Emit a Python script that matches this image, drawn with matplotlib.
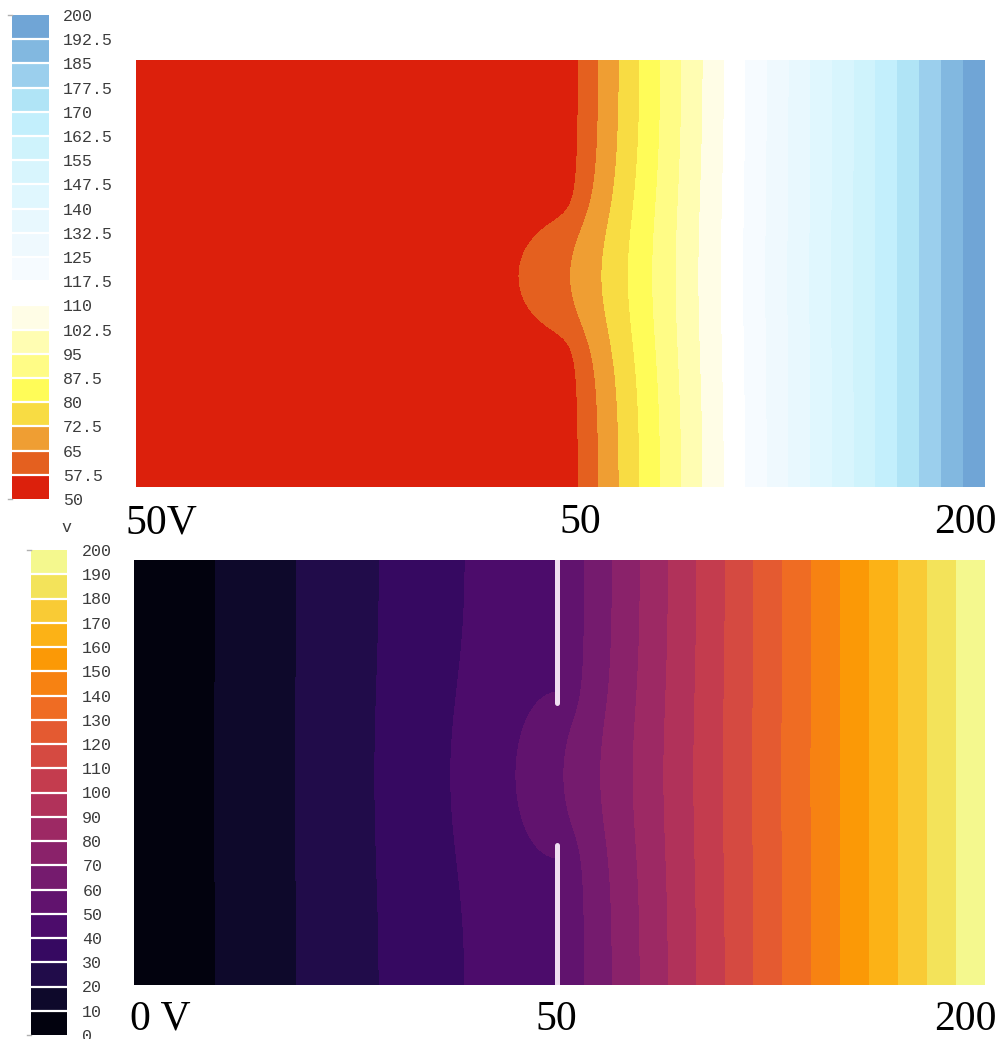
import numpy as np
import matplotlib
matplotlib.use("Agg")
import matplotlib.pyplot as plt
from matplotlib.ticker import FormatStrFormatter

# ---- cell geometry (drawing units) ----
cell_width = 850.0
cell_height = 425.0
plate_x = 422.5          # position of the perforated middle plate
aperture_low = 140.0     # opening in the plate
aperture_high = 282.0
grid_step = 2.5

# ---- electrode potentials (V) ----
upper_left_volts = 50.0
lower_left_volts = 0.0
plate_volts = 50.0
right_volts = 200.0

# ---- contour levels ----
upper_levels = [50, 57.5, 65, 72.5, 80, 87.5, 95, 102.5, 110, 117.5, 125,
                132.5, 140, 147.5, 155, 162.5, 170, 177.5, 185, 192.5, 200]
lower_levels = [0, 10, 20, 30, 40, 50, 60, 70, 80, 90, 100,
                110, 120, 130, 140, 150, 160, 170, 180, 190, 200]

upper_colors = ["#dc200c", "#e4601f", "#ef9e33", "#f8dc43", "#fffc58",
                "#fffc86", "#fffdb2", "#fffde6", "#ffffff", "#f6fbff",
                "#eff9fe", "#e8f8fe", "#e0f7fe", "#d8f5fd", "#cff3fc",
                "#c3effc", "#b0e4f6", "#9bcfed", "#82b8e0", "#70a5d6"]

# ---- annotations under each map ----
upper_marks = ["50V", "50", "200"]
lower_marks = ["0 V", "50", "200"]


def solve_potential(v_left, v_right, v_plate, iterations=2200):
    """Laplace equation, Dirichlet electrodes, insulating top/bottom walls."""
    nx = int(round(cell_width / grid_step)) + 1
    ny = int(round(cell_height / grid_step)) + 1
    x = np.linspace(0.0, cell_width, nx)
    y = np.linspace(0.0, cell_height, ny)
    ip = int(np.argmin(np.abs(x - plate_x)))
    xp = x[ip]
    # start from the field of a closed plate
    left = v_left + (v_plate - v_left) * x / xp
    right = v_plate + (v_right - v_plate) * (x - xp) / (cell_width - xp)
    V = np.tile(np.where(x <= xp, left, right), (ny, 1))

    fixed = np.zeros((ny, nx), bool)
    fixed[:, 0] = True
    fixed[:, -1] = True
    solid = (y < aperture_low) | (y > aperture_high)
    fixed[solid, ip] = True
    V[solid, ip] = v_plate

    ii, jj = np.meshgrid(np.arange(ny), np.arange(nx), indexing="ij")
    parity = (ii + jj) % 2
    masks = [((parity == p) & ~fixed).astype(float) for p in (0, 1)]
    omega = 2.0 / (1.0 + np.sin(np.pi / nx))
    S = np.zeros_like(V)
    for _ in range(iterations):
        for m in masks:
            S[1:-1, 1:-1] = V[:-2, 1:-1] + V[2:, 1:-1] + V[1:-1, :-2] + V[1:-1, 2:]
            S[0, 1:-1] = 2 * V[1, 1:-1] + V[0, :-2] + V[0, 2:]
            S[-1, 1:-1] = 2 * V[-2, 1:-1] + V[-1, :-2] + V[-1, 2:]
            V += omega * m * (0.25 * S - V)
    return x, y, V, solid


W, H = 1002, 1039
fig = plt.figure(figsize=(W / 100, H / 100), dpi=100)


def px_axes(x0, y0, x1, y1):
    return fig.add_axes([x0 / W, 1 - y1 / H, (x1 - x0) / W, (y1 - y0) / H])


mono = {"family": "Liberation Mono", "size": 12, "color": "#3c3c3c"}
serif = {"family": "Liberation Serif", "size": 30, "color": "black"}


def style_colorbar(cb, cax, levels, pad):
    cb.outline.set_visible(False)
    cb.dividers.set_color("white")
    cb.dividers.set_linewidth(1.6)
    cax.yaxis.set_major_formatter(FormatStrFormatter("%g"))
    cax.tick_params(axis="y", length=0, pad=pad)
    for t in cax.get_yticklabels():
        t.set_fontfamily(mono["family"])
        t.set_fontsize(mono["size"])
        t.set_color(mono["color"])
    for yy in (0, 1):
        cax.plot([-0.12, 0.0], [yy, yy], transform=cax.transAxes,
                 color="#b0b0b0", lw=1.0, clip_on=False)


# ---- upper map: left electrode at 50 V ----
x, y, Vu, _ = solve_potential(upper_left_volts, right_volts, plate_volts)
Vu = np.clip(Vu, upper_levels[0], upper_levels[-1])
ax1 = px_axes(136, 60, 985, 487)
cs1 = ax1.contourf(x, y, Vu, levels=upper_levels, colors=upper_colors)
ax1.set_xlim(0, cell_width)
ax1.set_ylim(0, cell_height)
ax1.set_axis_off()

cax1 = px_axes(12, 15, 49, 499)
cb1 = fig.colorbar(cs1, cax=cax1, ticks=upper_levels, drawedges=True)
style_colorbar(cb1, cax1, upper_levels, 10)

# ---- lower map: left electrode at 0 V ----
x, y, Vl, solid = solve_potential(lower_left_volts, right_volts, plate_volts)
Vl = np.clip(Vl, lower_levels[0], lower_levels[-1])
ax2 = px_axes(134, 560, 985, 985)
cs2 = ax2.contourf(x, y, Vl, levels=lower_levels, cmap="inferno")
ax2.set_xlim(0, cell_width)
ax2.set_ylim(0, cell_height)
ax2.set_axis_off()
# the perforated plate
plate_kw = dict(color="#efdff1", lw=3.6, solid_capstyle="round")
ax2.plot([plate_x, plate_x], [-5, aperture_low], **plate_kw)
ax2.plot([plate_x, plate_x], [aperture_high, cell_height + 5], **plate_kw)

cax2 = px_axes(31, 550, 67, 1035)
cb2 = fig.colorbar(cs2, cax=cax2, ticks=lower_levels, drawedges=True)
style_colorbar(cb2, cax2, lower_levels, 11)
fig.text(66 / W, 1 - 527 / H, "v", ha="center", va="center", **mono)

# ---- potential annotations ----
fig.text(125 / W, 1 - 533 / H, upper_marks[0], ha="left", va="baseline", **serif)
fig.text(580 / W, 1 - 533 / H, upper_marks[1], ha="center", va="baseline", **serif)
fig.text(997 / W, 1 - 533 / H, upper_marks[2], ha="right", va="baseline", **serif)
fig.text(130 / W, 1 - 1030 / H, lower_marks[0], ha="left", va="baseline", **serif)
fig.text(556 / W, 1 - 1030 / H, lower_marks[1], ha="center", va="baseline", **serif)
fig.text(997 / W, 1 - 1030 / H, lower_marks[2], ha="right", va="baseline", **serif)

fig.savefig("out.png", dpi=100)
